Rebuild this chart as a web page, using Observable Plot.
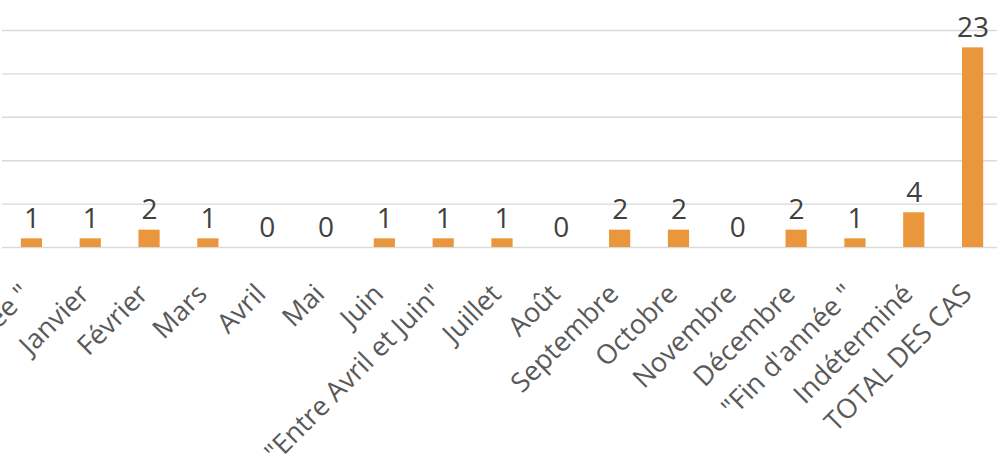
<!DOCTYPE html>
<html>
<head>
<meta charset="utf-8">
<script src="https://cdn.jsdelivr.net/npm/d3@7"></script>
<script src="https://cdn.jsdelivr.net/npm/@observablehq/plot@0.6"></script>
<style>
  html, body { margin: 0; padding: 0; background: #fff; overflow: hidden; }
  #chart svg { display: block; overflow: hidden; }
</style>
</head>
<body>
<div id="chart"></div>
<script>
const categories = [
  "\"Début d'année \"", "Janvier", "Février", "Mars", "Avril", "Mai", "Juin",
  "\"Entre Avril et Juin\"", "Juillet", "Août", "Septembre", "Octobre",
  "Novembre", "Décembre", "\"Fin d'année \"", "Indéterminé", "TOTAL DES CAS"
];
const values = [1, 1, 2, 1, 0, 0, 1, 1, 1, 0, 2, 2, 0, 2, 1, 4, 23];
const yTicks = [0, 5, 10, 15, 20, 25];

const data = categories.map((c, i) => ({category: c, value: values[i]}));

const chart = Plot.plot({
  width: 997,
  height: 469,
  marginLeft: 2,
  marginRight: -5,
  marginTop: 30,
  marginBottom: 222,
  style: {fontFamily: "'Open Sans', sans-serif", background: "#fff"},
  x: {domain: categories, paddingInner: 0.64, paddingOuter: 0.32, round: false, axis: null},
  y: {domain: [0, 25], axis: null},
  marks: [
    Plot.ruleY(yTicks, {stroke: "#d9d9d9", strokeWidth: 1.4}),
    Plot.barY(data, {x: "category", y: "value", fill: "#ea963c"}),
    Plot.text(data, {
      x: "category", y: "value", text: d => String(d.value),
      dy: -11, fontSize: 28, fill: "#404040", lineAnchor: "bottom"
    }),
    Plot.text(data, {
      x: "category", text: "category", frameAnchor: "bottom",
      rotate: -45, textAnchor: "end", lineAnchor: "middle",
      dx: -6, dy: 42, fontSize: 27, fill: "#595959"
    })
  ]
});
document.getElementById("chart").appendChild(chart);
</script>
</body>
</html>
